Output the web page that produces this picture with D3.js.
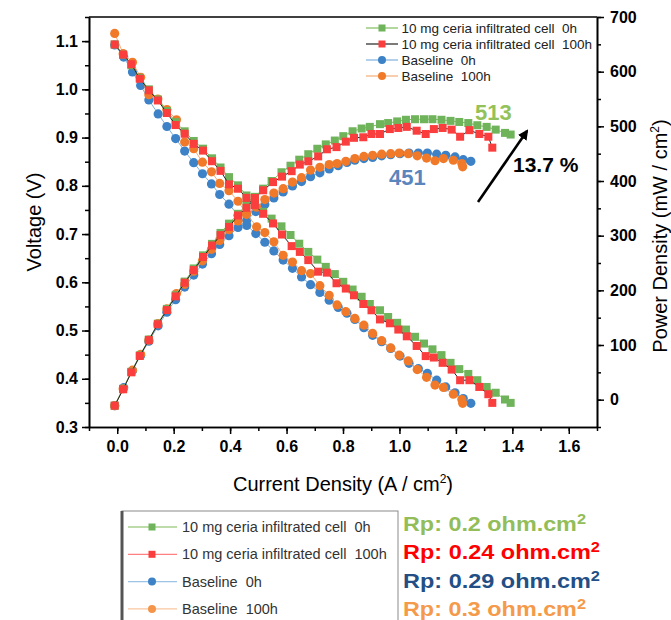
<!DOCTYPE html>
<html><head><meta charset="utf-8">
<script src="https://cdn.jsdelivr.net/npm/d3@7"></script>
<style>
body{margin:0;background:#fff;}
svg{display:block;font-family:"Liberation Sans",Arial,sans-serif;}
</style>
</head><body><svg id="chart" width="671" height="620"></svg>
<script>
// ---------------- data ----------------
const seriesNames = ["10 mg ceria infiltrated cell  0h", "10 mg ceria infiltrated cell  100h", "Baseline  0h", "Baseline  100h"];

const greenCurrent = [-0.009,0.021,0.050,0.080,0.112,0.144,0.176,0.207,0.239,0.271,
  0.304,0.336,0.366,0.396,0.428,0.458,0.488,0.517,0.547,0.582,
  0.614,0.645,0.677,0.709,0.739,0.771,0.801,0.834,0.866,0.895,
  0.931,0.960,0.992,1.023,1.055,1.087,1.117,1.149,1.181,1.212,
  1.244,1.276,1.309,1.341,1.374,1.394];
const greenVoltage = [1.093,1.072,1.050,1.024,1.000,0.979,0.955,0.932,0.913,0.893,
  0.877,0.857,0.838,0.818,0.801,0.780,0.762,0.746,0.732,0.716,
  0.698,0.680,0.663,0.647,0.632,0.617,0.601,0.585,0.570,0.555,
  0.542,0.528,0.516,0.502,0.487,0.473,0.461,0.449,0.433,0.420,
  0.410,0.397,0.383,0.371,0.357,0.350];
const greenPower = [-11,20,51,81,110,139,166,191,216,240,
  264,285,305,322,340,356,371,386,400,416,
  428,439,449,459,467,474,482,491,496,499,
  504,506,509,512,513,513,513,512,510,508,
  506,502,499,494,488,485];

const redCurrent = [-0.009,0.021,0.050,0.080,0.112,0.144,0.176,0.207,0.239,0.271,
  0.304,0.336,0.366,0.396,0.428,0.458,0.488,0.517,0.552,0.584,
  0.618,0.647,0.677,0.712,0.743,0.777,0.810,0.839,0.872,0.901,
  0.931,0.966,0.996,1.026,1.061,1.093,1.122,1.153,1.185,1.215,
  1.248,1.283,1.315,1.329];
const redVoltage = [1.093,1.072,1.052,1.022,0.998,0.977,0.951,0.926,0.908,0.887,
  0.873,0.851,0.831,0.803,0.794,0.775,0.760,0.742,0.722,0.699,
  0.675,0.663,0.646,0.622,0.620,0.598,0.587,0.573,0.555,0.542,
  0.523,0.515,0.502,0.488,0.468,0.447,0.444,0.433,0.419,0.397,
  0.397,0.383,0.368,0.350];
const redPower = [-11,19,50,80,109,138,164,189,214,237,
  261,282,301,316,337,351,369,383,398,408,
  418,430,436,445,458,462,472,479,480,486,
  486,495,497,499,492,486,495,497,494,481,
  493,486,481,461];

const blueCurrent = [-0.009,0.023,0.054,0.083,0.112,0.145,0.176,0.207,0.239,0.271,
  0.302,0.334,0.363,0.396,0.428,0.459,0.491,0.523,0.555,0.588,
  0.621,0.653,0.685,0.718,0.751,0.783,0.814,0.842,0.874,0.905,
  0.937,0.969,1.002,1.034,1.067,1.099,1.132,1.164,1.197,1.226,
  1.253];
const blueVoltage = [1.092,1.067,1.036,1.008,0.978,0.949,0.923,0.898,0.872,0.848,
  0.825,0.804,0.782,0.762,0.739,0.718,0.701,0.683,0.665,0.646,
  0.629,0.611,0.595,0.579,0.563,0.548,0.536,0.523,0.506,0.490,
  0.477,0.463,0.447,0.432,0.421,0.411,0.397,0.383,0.371,0.359,
  0.349];
const bluePower = [-11,22,53,81,107,135,160,183,206,228,
  248,267,284,300,315,328,344,357,369,380,
  391,399,408,415,422,428,434,438,441,443,
  446,448,450,451,451,451,449,447,444,439,
  436];

const orangeCurrent = [-0.009,0.021,0.054,0.083,0.112,0.144,0.176,0.210,0.239,0.271,
  0.302,0.334,0.363,0.396,0.428,0.458,0.494,0.523,0.555,0.588,
  0.621,0.653,0.685,0.718,0.751,0.779,0.810,0.842,0.874,0.905,
  0.937,0.969,0.999,1.031,1.063,1.096,1.126,1.156,1.191,1.221,
  1.224];
const orangeVoltage = [1.116,1.074,1.056,1.025,0.989,0.980,0.958,0.937,0.891,0.877,
  0.849,0.829,0.805,0.790,0.768,0.742,0.715,0.703,0.684,0.656,
  0.642,0.624,0.618,0.593,0.573,0.553,0.539,0.525,0.511,0.494,
  0.479,0.464,0.449,0.437,0.419,0.403,0.387,0.382,0.368,0.357,
  0.349];
const orangePower = [-11,20,54,83,109,139,166,194,211,235,
  254,275,291,311,327,339,352,366,378,386,
  398,406,420,425,430,432,436,441,445,447,
  449,450,451,450,446,442,437,441,438,432,
  426];

const xTicks = [0.0,0.2,0.4,0.6,0.8,1.0,1.2,1.4,1.6];
const voltageTicks = [0.3,0.4,0.5,0.6,0.7,0.8,0.9,1.0,1.1];
const powerTicks = [0,100,200,300,400,500,600,700];

const rpLabels = ["Rp: 0.2 ohm.cm", "Rp: 0.24 ohm.cm", "Rp: 0.29 ohm.cm", "Rp: 0.3 ohm.cm"];
const peakLabels = ["513", "451"];
const gainLabel = "13.7 %";

// ---------------- drawing ----------------
const svg = d3.select("#chart");
const L = 89, R = 597, T = 17, B = 427;

const x = d3.scaleLinear().domain([-0.1, 1.7]).range([L, R]);
const yV = d3.scaleLinear().domain([0.3, 1.15]).range([B, T]);
const yP = d3.scaleLinear().domain([-50, 700]).range([B, T]);

const colors = {
  green: "#6fb35a", red: "#fa3e3e", blue: "#3d82c6", orange: "#f07a2a"
};

const series = [
  {name: seriesNames[2], cur: blueCurrent, v: blueVoltage, p: bluePower, fill: colors.blue, line: "#7fb0df", shape: "circle"},
  {name: seriesNames[3], cur: orangeCurrent, v: orangeVoltage, p: orangePower, fill: colors.orange, line: "#f5ad7a", shape: "circle"},
  {name: seriesNames[0], cur: greenCurrent, v: greenVoltage, p: greenPower, fill: colors.green, line: "#7fbf5f", shape: "square"},
  {name: seriesNames[1], cur: redCurrent, v: redVoltage, p: redPower, fill: colors.red, line: "#222", shape: "square"}
];

// axes
function styleAxis(g, labelSize) {
  g.selectAll(".domain").attr("stroke", "#000").attr("stroke-width", 1.6);
  g.selectAll(".tick line").attr("stroke", "#000").attr("stroke-width", 1.5);
  g.selectAll(".tick text").attr("font-size", labelSize).attr("font-weight", "bold")
    .attr("fill", "#000").attr("font-family", "Liberation Sans, Arial, sans-serif");
}

const xMinor = d3.range(-1, 18).map(d => d / 10);
const vMinor = d3.range(6, 24).map(d => d / 20);
const pMinor = d3.range(-1, 15).map(d => d * 50);

const gxm = svg.append("g").attr("transform", `translate(0,${B})`)
  .call(d3.axisBottom(x).tickValues(xMinor).tickSize(4).tickFormat("").tickSizeOuter(0));
styleAxis(gxm, 16);
const gx = svg.append("g").attr("transform", `translate(0,${B})`)
  .call(d3.axisBottom(x).tickValues(xTicks).tickFormat(d3.format(".1f")).tickSize(7).tickPadding(7).tickSizeOuter(0));
styleAxis(gx, 16);

const gym = svg.append("g").attr("transform", `translate(${L},0)`)
  .call(d3.axisLeft(yV).tickValues(vMinor).tickSize(4).tickFormat("").tickSizeOuter(0));
styleAxis(gym, 16);
const gy = svg.append("g").attr("transform", `translate(${L},0)`)
  .call(d3.axisLeft(yV).tickValues(voltageTicks).tickFormat(d3.format(".1f")).tickSize(7).tickPadding(4).tickSizeOuter(0));
styleAxis(gy, 16);

const gpm = svg.append("g").attr("transform", `translate(${R},0)`)
  .call(d3.axisRight(yP).tickValues(pMinor).tickSize(4).tickFormat("").tickSizeOuter(0));
styleAxis(gpm, 16);
const gp = svg.append("g").attr("transform", `translate(${R},0)`)
  .call(d3.axisRight(yP).tickValues(powerTicks).tickFormat(d3.format("d")).tickSize(7).tickPadding(6).tickSizeOuter(0));
styleAxis(gp, 16);

svg.append("line").attr("x1", L).attr("x2", R).attr("y1", T).attr("y2", T)
  .attr("stroke", "#000").attr("stroke-width", 1.6);

// axis titles
svg.append("text").attr("x", 343).attr("y", 491).attr("text-anchor", "middle")
  .attr("font-size", 20).attr("fill", "#000")
  .call(t => {
    t.append("tspan").text("Current Density (A / cm");
    t.append("tspan").attr("font-size", 12).attr("dy", -8).text("2");
    t.append("tspan").attr("dy", 8).text(")");
  });
svg.append("text").attr("transform", "translate(41,222) rotate(-90)").attr("text-anchor", "middle")
  .attr("font-size", 20).attr("fill", "#000").text("Voltage (V)");
svg.append("text").attr("transform", "translate(667,236) rotate(-90)").attr("text-anchor", "middle")
  .attr("font-size", 20).attr("fill", "#000")
  .call(t => {
    t.append("tspan").text("Power Density (mW / cm");
    t.append("tspan").attr("font-size", 12).attr("dy", -8).text("2");
    t.append("tspan").attr("dy", 8).text(")");
  });

// series
const plotG = svg.append("g");
function drawMarkers(g, pts, s) {
  if (s.shape === "square") {
    g.selectAll("rect").data(pts).join("rect")
      .attr("x", d => d[0] - 4).attr("y", d => d[1] - 4)
      .attr("width", 8).attr("height", 8).attr("fill", s.fill);
  } else {
    g.selectAll("circle").data(pts).join("circle")
      .attr("cx", d => d[0]).attr("cy", d => d[1]).attr("r", 4.6).attr("fill", s.fill);
  }
}
series.forEach(s => {
  const vPts = s.cur.map((c, i) => [x(c), yV(s.v[i])]);
  const pPts = s.cur.map((c, i) => [x(c), yP(s.p[i])]);
  const g = plotG.append("g");
  g.append("path").attr("d", d3.line()(vPts)).attr("fill", "none").attr("stroke", s.line).attr("stroke-width", 1);
  g.append("path").attr("d", d3.line()(pPts)).attr("fill", "none").attr("stroke", s.line).attr("stroke-width", 1);
  drawMarkers(g.append("g"), vPts, s);
  drawMarkers(g.append("g"), pPts, s);
});

// in-plot legend
const legendOrder = [2, 3, 0, 1];
const lg = svg.append("g");
legendOrder.forEach((si, i) => {
  const s = series[si];
  const cy = 28 + i * 16;
  lg.append("line").attr("x1", 366).attr("x2", 398).attr("y1", cy).attr("y2", cy)
    .attr("stroke", s.line).attr("stroke-width", 1.2);
  if (s.shape === "square") {
    lg.append("rect").attr("x", 382 - 3.5).attr("y", cy - 3.5).attr("width", 7).attr("height", 7).attr("fill", s.fill);
  } else {
    lg.append("circle").attr("cx", 382).attr("cy", cy).attr("r", 4).attr("fill", s.fill);
  }
  lg.append("text").attr("x", 401.5).attr("y", cy + 5).attr("font-size", 13.5).attr("fill", "#222")
    .style("white-space", "pre").text(s.name);
});

// annotations
svg.append("text").attr("x", 475).attr("y", 120).attr("font-size", 22).attr("font-weight", "bold")
  .attr("fill", "#93c25a").text(peakLabels[0]);
svg.append("text").attr("x", 389).attr("y", 185).attr("font-size", 22).attr("font-weight", "bold")
  .attr("fill", "#5a85bd").text(peakLabels[1]);
svg.append("text").attr("x", 513).attr("y", 172).attr("font-size", 21).attr("font-weight", "bold")
  .attr("fill", "#000").text(gainLabel);

svg.append("defs").append("marker").attr("id", "arrowhead")
  .attr("viewBox", "0 0 10 10").attr("refX", 8).attr("refY", 5)
  .attr("markerWidth", 4).attr("markerHeight", 4).attr("orient", "auto")
  .append("path").attr("d", "M0,0 L10,5 L0,10 z").attr("fill", "#000");
svg.append("line").attr("x1", 478).attr("y1", 202).attr("x2", 527).attr("y2", 131)
  .attr("stroke", "#000").attr("stroke-width", 2.6).attr("marker-end", "url(#arrowhead)");

// bottom legend box
const bl = svg.append("g");
bl.append("rect").attr("x", 122).attr("y", 511).attr("width", 276).attr("height", 130)
  .attr("fill", "#fff").attr("stroke", "#8a8a8a").attr("stroke-width", 1);
bl.append("line").attr("x1", 122).attr("x2", 122).attr("y1", 511).attr("y2", 620)
  .attr("stroke", "#555").attr("stroke-width", 3);
const bottomLine = {green: "#a9d18e", red: "#ff8080", blue: "#9dc3e6", orange: "#f8c6a0"};
const bottomOrder = [
  {s: series[2], lc: bottomLine.green},
  {s: series[3], lc: bottomLine.red},
  {s: series[0], lc: bottomLine.blue},
  {s: series[1], lc: bottomLine.orange}
];
const rpColors = ["#92bd58", "#ff0000", "#234f86", "#f59a4a"];
bottomOrder.forEach((o, i) => {
  const cy = 527 + i * 27.3;
  bl.append("line").attr("x1", 128).attr("x2", 177).attr("y1", cy).attr("y2", cy)
    .attr("stroke", o.lc).attr("stroke-width", 1.3);
  if (o.s.shape === "square") {
    bl.append("rect").attr("x", 152 - 3.5).attr("y", cy - 3.5).attr("width", 7).attr("height", 7).attr("fill", o.s.fill);
  } else {
    bl.append("circle").attr("cx", 152).attr("cy", cy).attr("r", 4).attr("fill", i === 3 ? "#f5954a" : o.s.fill);
  }
  bl.append("text").attr("x", 182).attr("y", cy + 5).attr("font-size", 14.5).attr("fill", "#333")
    .style("white-space", "pre").text(o.s.name);
});
const rpWidths = [183, 197, 197, 183];
rpLabels.forEach((lab, i) => {
  const cy = 524 + i * 28.3;
  const t = svg.append("text").attr("x", 403).attr("y", cy + 7).attr("font-size", 20)
    .attr("font-weight", "bold").attr("fill", rpColors[i])
    .attr("textLength", rpWidths[i]).attr("lengthAdjust", "spacingAndGlyphs");
  t.append("tspan").text(lab);
  t.append("tspan").attr("font-size", 14).attr("dy", -7).text("2");
});
</script>
</body></html>
